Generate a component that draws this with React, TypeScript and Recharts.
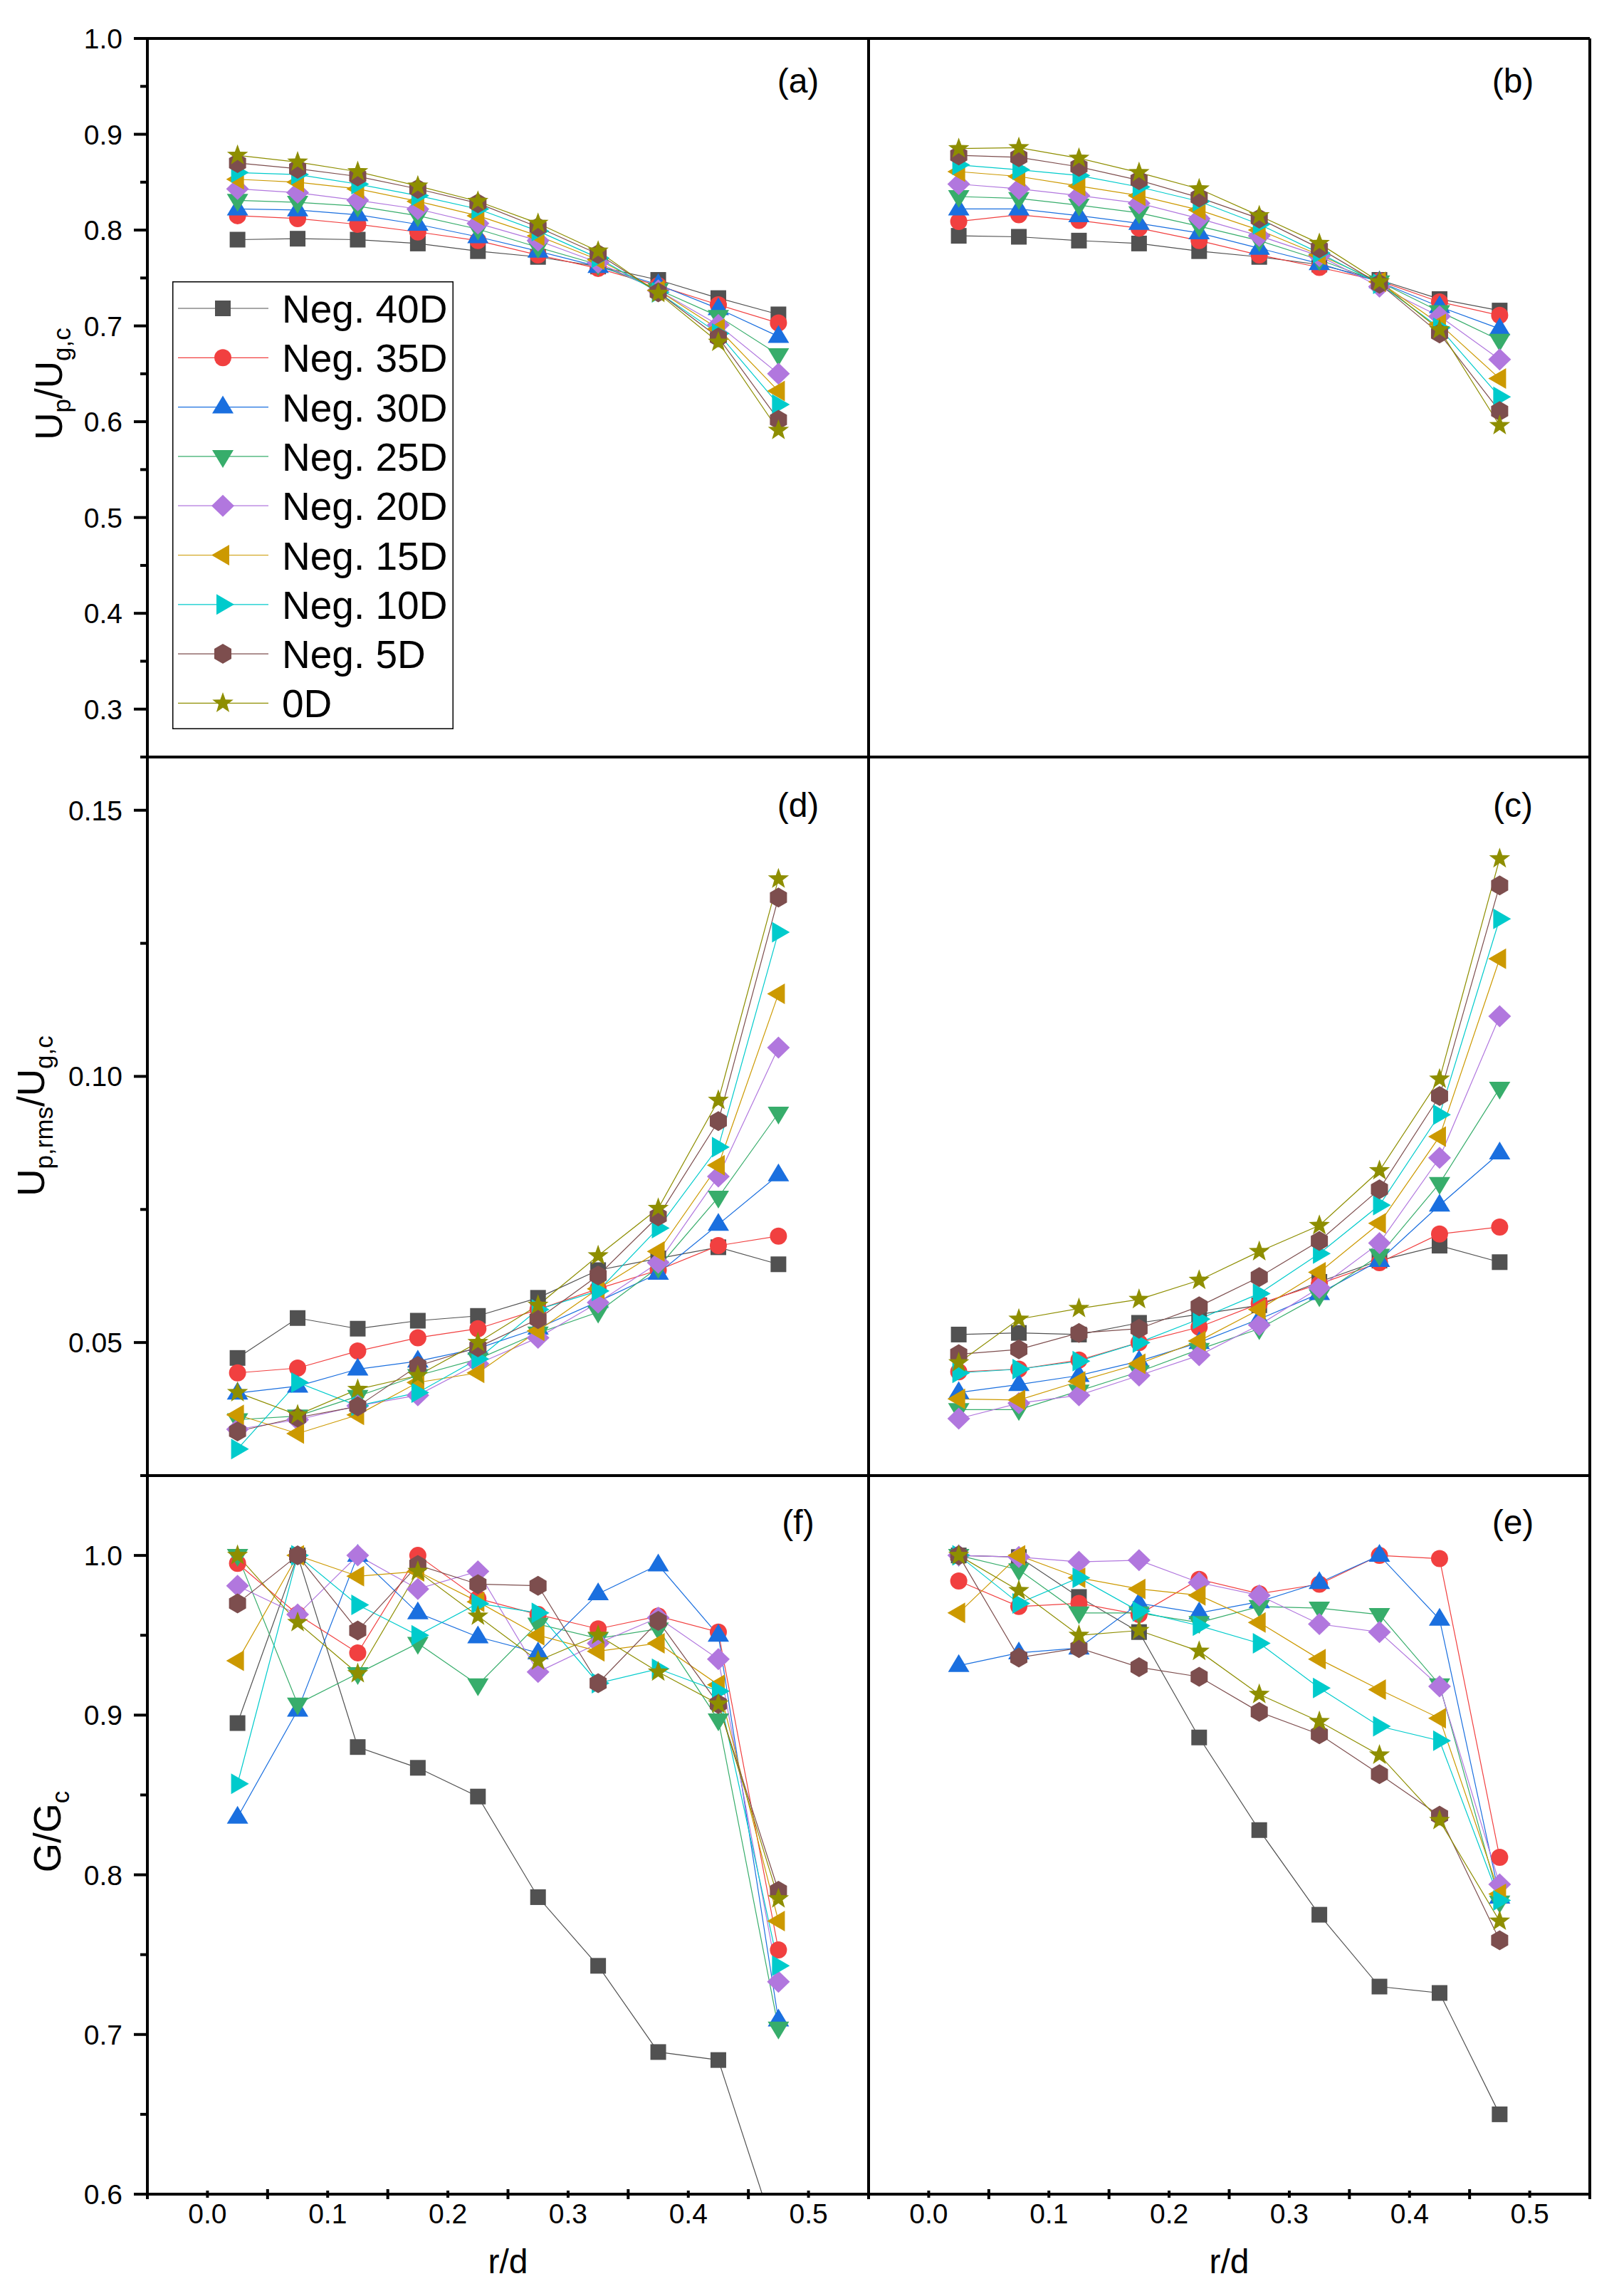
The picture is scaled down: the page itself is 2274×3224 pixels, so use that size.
import React from 'react';
import { LineChart, Line, XAxis, YAxis, ReferenceLine, Legend } from 'recharts';

const FONT = "'Liberation Sans', Arial, Helvetica, sans-serif";

// radial positions r/d
const R_D = [0.025, 0.075, 0.125, 0.175, 0.225, 0.275, 0.325, 0.375, 0.425, 0.475];

const SERIES_NAMES = ['Neg. 40D', 'Neg. 35D', 'Neg. 30D', 'Neg. 25D', 'Neg. 20D', 'Neg. 15D', 'Neg. 10D', 'Neg. 5D', '0D'];
const SERIES_COLORS = ['#515151', '#F14040', '#1A6FDF', '#37AD6B', '#B177DE', '#CC9900', '#00CBCC', '#7D4E4E', '#8E8E00'];
const SERIES_SHAPES = ['square', 'circle', 'up', 'down', 'diamond', 'left', 'right', 'hexagon', 'star'];

// tick values
const X_TICKS = [-0.05, 0, 0.05, 0.1, 0.15, 0.2, 0.25, 0.3, 0.35, 0.4, 0.45, 0.5, 0.55];
const X_LABELLED = [0, 0.1, 0.2, 0.3, 0.4, 0.5];
const Y_TICKS_U = [0.25, 0.3, 0.35, 0.4, 0.45, 0.5, 0.55, 0.6, 0.65, 0.7, 0.75, 0.8, 0.85, 0.9, 0.95, 1.0];
const Y_LABELLED_U = [0.3, 0.4, 0.5, 0.6, 0.7, 0.8, 0.9, 1.0];
const Y_TICKS_RMS = [0.025, 0.05, 0.075, 0.1, 0.125, 0.15];
const Y_LABELLED_RMS = [0.05, 0.1, 0.15];
const Y_TICKS_G = [0.6, 0.65, 0.7, 0.75, 0.8, 0.85, 0.9, 0.95, 1.0, 1.05];
const Y_LABELLED_G = [0.6, 0.7, 0.8, 0.9, 1.0];

// (a) Up/Ug,c  rows: 40D,35D,30D,25D,20D,15D,10D,5D,0D
const PANEL_A = [
  [0.790, 0.791, 0.790, 0.786, 0.778, 0.772, 0.762, 0.748, 0.729, 0.712],
  [0.815, 0.812, 0.806, 0.798, 0.789, 0.774, 0.760, 0.742, 0.722, 0.703],
  [0.822, 0.821, 0.816, 0.806, 0.793, 0.778, 0.762, 0.743, 0.718, 0.689],
  [0.831, 0.829, 0.825, 0.815, 0.801, 0.782, 0.764, 0.738, 0.710, 0.670],
  [0.843, 0.839, 0.831, 0.822, 0.807, 0.789, 0.766, 0.737, 0.701, 0.650],
  [0.853, 0.850, 0.843, 0.830, 0.815, 0.794, 0.769, 0.737, 0.697, 0.632],
  [0.860, 0.858, 0.848, 0.836, 0.822, 0.799, 0.771, 0.735, 0.692, 0.618],
  [0.870, 0.864, 0.856, 0.843, 0.828, 0.803, 0.775, 0.735, 0.688, 0.602],
  [0.878, 0.871, 0.861, 0.846, 0.830, 0.807, 0.778, 0.734, 0.683, 0.591],
];

// (b) Up/Ug,c
const PANEL_B = [
  [0.794, 0.793, 0.789, 0.786, 0.778, 0.772, 0.764, 0.748, 0.728, 0.716],
  [0.809, 0.816, 0.810, 0.802, 0.789, 0.774, 0.761, 0.747, 0.725, 0.711],
  [0.822, 0.822, 0.815, 0.807, 0.797, 0.781, 0.765, 0.746, 0.720, 0.697],
  [0.835, 0.833, 0.826, 0.818, 0.804, 0.789, 0.769, 0.746, 0.715, 0.685],
  [0.848, 0.843, 0.836, 0.828, 0.812, 0.794, 0.773, 0.741, 0.710, 0.665],
  [0.861, 0.856, 0.846, 0.836, 0.821, 0.800, 0.774, 0.746, 0.702, 0.645],
  [0.868, 0.863, 0.857, 0.845, 0.830, 0.806, 0.776, 0.744, 0.698, 0.626],
  [0.878, 0.876, 0.866, 0.852, 0.834, 0.812, 0.781, 0.744, 0.692, 0.611],
  [0.885, 0.886, 0.875, 0.860, 0.843, 0.815, 0.786, 0.746, 0.696, 0.596],
];

// (d) Up,rms/Ug,c
const PANEL_D = [
  [0.0471, 0.0546, 0.0526, 0.0541, 0.0550, 0.0584, 0.0636, 0.0658, 0.0679, 0.0647],
  [0.0443, 0.0452, 0.0484, 0.0509, 0.0526, 0.0562, 0.0601, 0.0636, 0.0682, 0.0700],
  [0.0405, 0.0418, 0.0450, 0.0465, 0.0489, 0.0527, 0.0577, 0.0630, 0.0722, 0.0815],
  [0.0355, 0.0362, 0.0399, 0.0438, 0.0469, 0.0518, 0.0557, 0.0641, 0.0773, 0.0931],
  [0.0337, 0.0355, 0.0381, 0.0401, 0.0460, 0.0509, 0.0575, 0.0650, 0.0812, 0.1054],
  [0.0364, 0.0329, 0.0364, 0.0425, 0.0443, 0.0522, 0.0601, 0.0671, 0.0833, 0.1155],
  [0.0300, 0.0425, 0.0381, 0.0406, 0.0469, 0.0562, 0.0597, 0.0715, 0.0867, 0.1271],
  [0.0333, 0.0359, 0.0380, 0.0456, 0.0491, 0.0544, 0.0626, 0.0737, 0.0916, 0.1336],
  [0.0406, 0.0364, 0.0412, 0.0438, 0.0500, 0.0570, 0.0663, 0.0752, 0.0955, 0.1371],
];

// (c) Up,rms/Ug,c
const PANEL_C = [
  [0.0515, 0.0518, 0.0515, 0.0537, 0.0553, 0.0570, 0.0614, 0.0654, 0.0682, 0.0651],
  [0.0445, 0.0450, 0.0467, 0.0500, 0.0529, 0.0573, 0.0610, 0.0650, 0.0704, 0.0717],
  [0.0406, 0.0421, 0.0438, 0.0465, 0.0500, 0.0544, 0.0592, 0.0654, 0.0758, 0.0856],
  [0.0374, 0.0374, 0.0409, 0.0445, 0.0487, 0.0526, 0.0588, 0.0664, 0.0799, 0.0978],
  [0.0357, 0.0386, 0.0401, 0.0438, 0.0476, 0.0533, 0.0603, 0.0687, 0.0847, 0.1113],
  [0.0394, 0.0392, 0.0427, 0.0460, 0.0503, 0.0562, 0.0632, 0.0724, 0.0887, 0.1221],
  [0.0443, 0.0450, 0.0465, 0.0500, 0.0544, 0.0592, 0.0667, 0.0758, 0.0928, 0.1296],
  [0.0478, 0.0487, 0.0518, 0.0526, 0.0568, 0.0623, 0.0691, 0.0788, 0.0963, 0.1359],
  [0.0462, 0.0544, 0.0564, 0.0581, 0.0617, 0.0671, 0.0720, 0.0823, 0.0995, 0.1409],
];

// (f) G/Gc
const PANEL_F = [
  [0.895, 1.000, 0.880, 0.867, 0.849, 0.786, 0.743, 0.689, 0.684, 0.569],
  [0.995, 0.963, 0.939, 1.000, 0.973, 0.963, 0.954, 0.962, 0.952, 0.753],
  [0.836, 0.903, 1.000, 0.964, 0.949, 0.939, 0.976, 0.994, 0.950, 0.709],
  [1.000, 0.907, 0.926, 0.945, 0.919, 0.957, 0.948, 0.954, 0.897, 0.704],
  [0.981, 0.963, 1.000, 0.979, 0.990, 0.927, 0.945, 0.961, 0.935, 0.733],
  [0.934, 1.000, 0.987, 0.990, 0.971, 0.950, 0.940, 0.945, 0.919, 0.771],
  [0.857, 1.000, 0.969, 0.950, 0.970, 0.964, 0.920, 0.929, 0.915, 0.743],
  [0.970, 1.000, 0.953, 0.994, 0.982, 0.981, 0.920, 0.959, 0.907, 0.790],
  [1.000, 0.958, 0.926, 0.990, 0.962, 0.934, 0.950, 0.927, 0.907, 0.785],
];

// (e) G/Gc
const PANEL_E = [
  [1.000, 0.999, 0.974, 0.952, 0.886, 0.828, 0.775, 0.730, 0.726, 0.650],
  [0.984, 0.968, 0.970, 0.963, 0.985, 0.976, 0.982, 1.000, 0.998, 0.811],
  [0.931, 0.939, 0.942, 0.970, 0.964, 0.971, 0.983, 1.000, 0.960, 0.786],
  [1.000, 0.991, 0.964, 0.964, 0.958, 0.968, 0.967, 0.963, 0.919, 0.783],
  [1.000, 0.999, 0.996, 0.997, 0.983, 0.975, 0.957, 0.952, 0.918, 0.794],
  [0.964, 1.000, 0.986, 0.979, 0.975, 0.958, 0.935, 0.916, 0.898, 0.788],
  [1.000, 0.970, 0.986, 0.965, 0.956, 0.945, 0.917, 0.893, 0.884, 0.784],
  [1.000, 0.936, 0.942, 0.930, 0.924, 0.902, 0.888, 0.863, 0.837, 0.759],
  [1.000, 0.978, 0.950, 0.953, 0.940, 0.913, 0.896, 0.875, 0.834, 0.771],
];

// ---------- layout ----------
const PLOT_W = 1013;
const PLOT_H = 1009;
const PAD_T = 34;
const PAD_B = 10;
const PLOT_TOP = [54, 1063, 2072];
const COL_LEFT = [0, 1210];
const COL_WIDTH = [1230, 1064];
const COL_YW = [207, 0];
const COL_ML = [0, 10];
const COL_MR = [10, 41];
const X_AXIS_H = 143;

const isIn = (v: number, arr: number[]) => arr.some((a) => Math.abs(a - v) < 1e-6);

function starPath(cx: number, cy: number, ro: number, ri: number) {
  let d = '';
  for (let i = 0; i < 10; i++) {
    const r = i % 2 === 0 ? ro : ri;
    const a = -Math.PI / 2 + (i * Math.PI) / 5;
    d += (i === 0 ? 'M' : 'L') + (cx + r * Math.cos(a)).toFixed(2) + ' ' + (cy + r * Math.sin(a)).toFixed(2);
  }
  return d + 'Z';
}

function Marker({ shape, cx, cy, color }: { shape: string; cx: number; cy: number; color: string }) {
  if (cx == null || cy == null || isNaN(cx) || isNaN(cy)) return null;
  switch (shape) {
    case 'square':
      return <rect x={cx - 11} y={cy - 11} width={22} height={22} fill={color} />;
    case 'circle':
      return <circle cx={cx} cy={cy} r={12} fill={color} />;
    case 'up':
      return <path d={`M${cx} ${cy - 16}L${cx + 15} ${cy + 9}L${cx - 15} ${cy + 9}Z`} fill={color} />;
    case 'down':
      return <path d={`M${cx} ${cy + 16}L${cx + 15} ${cy - 9}L${cx - 15} ${cy - 9}Z`} fill={color} />;
    case 'diamond':
      return <path d={`M${cx} ${cy - 15.5}L${cx + 16} ${cy}L${cx} ${cy + 15.5}L${cx - 16} ${cy}Z`} fill={color} />;
    case 'left':
      return <path d={`M${cx - 16} ${cy}L${cx + 9} ${cy - 14.5}L${cx + 9} ${cy + 14.5}Z`} fill={color} />;
    case 'right':
      return <path d={`M${cx + 16} ${cy}L${cx - 9} ${cy - 14.5}L${cx - 9} ${cy + 14.5}Z`} fill={color} />;
    case 'hexagon':
      return (
        <path
          d={`M${cx} ${cy - 14}L${cx + 12} ${cy - 7}L${cx + 12} ${cy + 7}L${cx} ${cy + 14}L${cx - 12} ${cy + 7}L${cx - 12} ${cy - 7}Z`}
          fill={color}
        />
      );
    case 'star':
      return <path d={starPath(cx, cy, 15.5, 6.3)} fill={color} />;
    default:
      return null;
  }
}

function LegendBox() {
  return (
    <svg width={395} height={629} style={{ display: 'block' }}>
      <rect x={0.75} y={0.75} width={393.5} height={627.5} fill="#fff" stroke="#000" strokeWidth={1.5} />
      {SERIES_NAMES.map((n, i) => {
        const yc = 38 + i * 69.3;
        return (
          <g key={n}>
            <line x1={8} x2={135} y1={yc} y2={yc} stroke={SERIES_COLORS[i]} strokeWidth={1.2} />
            <Marker shape={SERIES_SHAPES[i]} cx={71} cy={yc} color={SERIES_COLORS[i]} />
            <text x={154} y={yc + 20} fontSize={55} fontFamily={FONT} fill="#000">
              {n}
            </text>
          </g>
        );
      })}
    </svg>
  );
}

const TITLE_MAIN = 53;
const TITLE_SUB = 35;
const SUB_SHIFT = 12;

function YTitle({ row }: { row: number }) {
  const X = [87, 62, 85][row];
  const Y = PAD_T + [485, 504, 500][row];
  const common = { fontFamily: FONT, fill: '#000' };
  if (row === 0) {
    return (
      <text x={X} y={Y} transform={`rotate(-90 ${X} ${Y})`} textAnchor="middle" {...common}>
        <tspan fontSize={TITLE_MAIN}>U</tspan>
        <tspan fontSize={TITLE_SUB} dy={SUB_SHIFT}>p</tspan>
        <tspan fontSize={TITLE_MAIN} dy={-SUB_SHIFT}>/U</tspan>
        <tspan fontSize={TITLE_SUB} dy={SUB_SHIFT}>g,c</tspan>
      </text>
    );
  }
  if (row === 1) {
    return (
      <text x={X} y={Y} transform={`rotate(-90 ${X} ${Y})`} textAnchor="middle" {...common}>
        <tspan fontSize={TITLE_MAIN}>U</tspan>
        <tspan fontSize={TITLE_SUB} dy={SUB_SHIFT}>p,rms</tspan>
        <tspan fontSize={TITLE_MAIN} dy={-SUB_SHIFT}>/U</tspan>
        <tspan fontSize={TITLE_SUB} dy={SUB_SHIFT}>g,c</tspan>
      </text>
    );
  }
  return (
    <text x={X} y={Y} transform={`rotate(-90 ${X} ${Y})`} textAnchor="middle" {...common}>
      <tspan fontSize={TITLE_MAIN}>G/G</tspan>
      <tspan fontSize={TITLE_SUB} dy={SUB_SHIFT}>c</tspan>
    </text>
  );
}

type PanelProps = {
  row: number;
  col: number;
  values: number[][];
  yDomain: [number, number];
  yTicks: number[];
  yMajor: number[];
  yDigits: number;
  tag: string;
  legend?: boolean;
};

function Panel({ row, col, values, yDomain, yTicks, yMajor, yDigits, tag, legend }: PanelProps) {
  const data = R_D.map((r, i) => {
    const o: Record<string, number> = { r };
    values.forEach((s, k) => {
      o['s' + k] = s[i];
    });
    return o;
  });
  const isBottom = row === 2;
  const width = COL_WIDTH[col];
  const height = PAD_T + PLOT_H + (isBottom ? X_AXIS_H : PAD_B);
  const plotLeft = COL_ML[col] + COL_YW[col];
  const tagX = col === 0 ? 1121 : 915;
  const tagY = PAD_T + [76, 84, 82][row];

  const yTick = (p: any) => {
    const v = p.payload.value;
    const major = isIn(v, yMajor);
    const len = major ? 19 : 10;
    return (
      <g>
        <line x1={p.x - len} x2={p.x} y1={p.y} y2={p.y} stroke="#000" strokeWidth={4} />
        {major && (
          <text x={p.x - 35} y={p.y + 14} textAnchor="end" fontSize={39} fontFamily={FONT} fill="#000">
            {Number(v).toFixed(yDigits)}
          </text>
        )}
      </g>
    );
  };

  const xTick = (p: any) => {
    const v = p.payload.value;
    const lab = isIn(v, X_LABELLED);
    const half = lab ? 5 : 7;
    return (
      <g>
        <line x1={p.x} x2={p.x} y1={p.y - half} y2={p.y + half} stroke="#000" strokeWidth={4} />
        {lab && (
          <text x={p.x} y={p.y + 41} textAnchor="middle" fontSize={39} fontFamily={FONT} fill="#000">
            {Number(v).toFixed(1)}
          </text>
        )}
      </g>
    );
  };

  const xTitle = () => (
    <text x={plotLeft + PLOT_W / 2} y={PAD_T + PLOT_H + 111} textAnchor="middle" fontSize={48} fontFamily={FONT} fill="#000">
      r/d
    </text>
  );

  const tagLabel = () => (
    <text x={tagX} y={tagY} textAnchor="middle" fontSize={48} fontFamily={FONT} fill="#000">
      {tag}
    </text>
  );

  const axisLine = { stroke: '#000', strokeWidth: 4 };

  return (
    <div style={{ position: 'absolute', left: COL_LEFT[col], top: PLOT_TOP[row] - PAD_T }}>
      <LineChart
        width={width}
        height={height}
        data={data}
        margin={{ top: PAD_T, right: COL_MR[col], bottom: isBottom ? 0 : PAD_B, left: COL_ML[col] }}
      >
        <XAxis
          dataKey="r"
          type="number"
          domain={[-0.05, 0.55]}
          ticks={X_TICKS}
          interval={0}
          allowDataOverflow
          height={isBottom ? X_AXIS_H : 0}
          tick={isBottom ? xTick : false}
          tickLine={false}
          tickSize={0}
          tickMargin={0}
          axisLine={axisLine}
          label={isBottom ? xTitle : undefined}
        />
        <YAxis
          type="number"
          domain={yDomain}
          ticks={yTicks}
          interval={0}
          allowDataOverflow
          width={COL_YW[col]}
          tick={col === 0 ? yTick : false}
          tickLine={false}
          tickSize={0}
          tickMargin={0}
          axisLine={axisLine}
          label={col === 0 ? () => <YTitle row={row} /> : undefined}
        />
        <ReferenceLine y={yDomain[1]} stroke="#000" strokeWidth={4} label={tagLabel} />
        <ReferenceLine x={0.55} stroke="#000" strokeWidth={4} />
        {values.map((_, k) => (
          <Line
            key={k}
            type="linear"
            dataKey={'s' + k}
            name={SERIES_NAMES[k]}
            stroke={SERIES_COLORS[k]}
            strokeWidth={1.2}
            isAnimationActive={false}
            activeDot={false}
            dot={(p: any) => (
              <Marker key={`dot-${k}-${p.index}`} shape={SERIES_SHAPES[k]} cx={p.cx} cy={p.cy} color={SERIES_COLORS[k]} />
            )}
          />
        ))}
        {legend && (
          <Legend
            content={() => <LegendBox />}
            layout="horizontal"
            verticalAlign="middle"
            align="center"
            wrapperStyle={{ left: 242, top: 395 - (PLOT_TOP[0] - PAD_T), width: 395, height: 629, lineHeight: 0 }}
          />
        )}
      </LineChart>
    </div>
  );
}

export default function App() {
  return (
    <div style={{ position: 'relative', width: 2274, height: 3224, background: '#fff', overflow: 'hidden' }}>
      <style>{'html,body{margin:0;padding:0;background:#fff;}'}</style>
      <Panel row={0} col={0} values={PANEL_A} yDomain={[0.25, 1.0]} yTicks={Y_TICKS_U} yMajor={Y_LABELLED_U} yDigits={1} tag="(a)" legend />
      <Panel row={0} col={1} values={PANEL_B} yDomain={[0.25, 1.0]} yTicks={Y_TICKS_U} yMajor={Y_LABELLED_U} yDigits={1} tag="(b)" />
      <Panel row={1} col={0} values={PANEL_D} yDomain={[0.025, 0.16]} yTicks={Y_TICKS_RMS} yMajor={Y_LABELLED_RMS} yDigits={2} tag="(d)" />
      <Panel row={1} col={1} values={PANEL_C} yDomain={[0.025, 0.16]} yTicks={Y_TICKS_RMS} yMajor={Y_LABELLED_RMS} yDigits={2} tag="(c)" />
      <Panel row={2} col={0} values={PANEL_F} yDomain={[0.6, 1.05]} yTicks={Y_TICKS_G} yMajor={Y_LABELLED_G} yDigits={1} tag="(f)" />
      <Panel row={2} col={1} values={PANEL_E} yDomain={[0.6, 1.05]} yTicks={Y_TICKS_G} yMajor={Y_LABELLED_G} yDigits={1} tag="(e)" />
    </div>
  );
}
